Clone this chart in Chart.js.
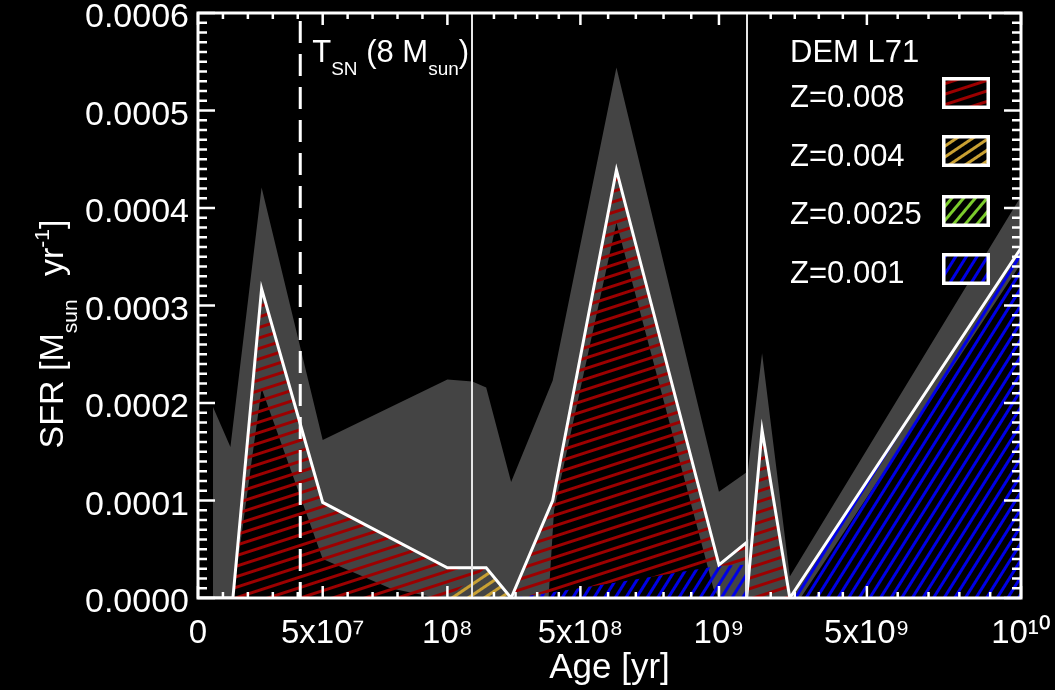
<!DOCTYPE html>
<html><head><meta charset="utf-8">
<style>html,body{margin:0;padding:0;background:#000;overflow:hidden}canvas{display:block}</style>
<script src="https://cdn.jsdelivr.net/npm/chart.js@4.4.1/dist/chart.umd.min.js"></script>
</head><body><canvas id="c" width="1055" height="690"></canvas>
<script>
// ---------------- data ----------------
const ages      = [0, 1.4e7, 2.55e7, 5e7, 1e8, 1.1e8, 1.6e8, 2.5e8, 4e8, 6.3e8, 1e9, 1.1e9, 1.1e9, 1.6e9, 2.5e9, 1e10];
const sfrZ008   = [0, 0, 0.000317, 0.000098, 0.000031, 0.000011, 0, 0, 0.000094, 0.000423, 0.000001, 0.000023, 0, 0.000172, 0, 0];
const sfrZ004   = [0, 0, 0, 0, 0, 0.00002, 0.000031, 0, 0, 0, 0, 0, 0, 0, 0, 0];
const sfrZ0025  = [0, 0, 0, 0, 0, 0, 0, 0, 0, 0, 0, 0, 0, 0, 0, 0];
const sfrZ001   = [0, 0, 0, 0, 0, 0, 0, 0, 0.000006, 0.000016, 0.000033, 0.000034, 0, 0, 0, 0.000359];

const upperAges = [6e6, 6e6, 1.3e7, 2.55e7, 5e7, 1e8, 1.1e8, 1.6e8, 2.5e8, 4e8, 6.3e8, 1e9, 1.1e9, 1.1e9, 1.6e9, 2.5e9, 1e10];
const sfrUpper  = [0, 0.000196, 0.000155, 0.000421, 0.000162, 0.000224, 0.000222, 0.000216, 0.000119, 0.000223, 0.000544, 0.000109, 0.000129, 0.00012, 0.000251, 0.000022, 0.000412];
const lowerAges = [0, 1.4e7, 2.55e7, 5e7, 7.7e7, 9.6e7, 3.85e8, 4.05e8, 6.3e8, 9.8e8, 1e9, 1.1e9, 1.6e9, 2.5e9, 2.85e9, 1e10];
const sfrLower  = [0, 0, 0.000215, 0.00004, 0.00001, 0, 0, 0.00009, 0.000385, 0.00001, 0, 0, 0, 0, 0, 0.000343];

const xTickAges   = [0, 5e7, 1e8, 5e8, 1e9, 5e9, 1e10];
const xTickLabels = ['0', '5x10\u2077', '10\u2078', '5x10\u2078', '10\u2079', '5x10\u2079', '10\u00B9\u2070'];
const yTickValues = [0, 0.0001, 0.0002, 0.0003, 0.0004, 0.0005, 0.0006];
const tSN = 4.1e7;
const legendTitle = 'DEM L71';
const legendLabels = ['Z=0.008', 'Z=0.004', 'Z=0.0025', 'Z=0.001'];

// ---------------- helpers ----------------
const panelEdges = [0, 1.1e8, 1.1e9, 1e10];
function ageToU(a) {
  if (a <= panelEdges[1]) return a / panelEdges[1];
  if (a <= panelEdges[2]) return 1 + (a - panelEdges[1]) / (panelEdges[2] - panelEdges[1]);
  return 2 + (a - panelEdges[2]) / (panelEdges[3] - panelEdges[2]);
}
const pts = (xs, ys) => xs.map((a, i) => ({x: ageToU(a), y: ys[i]}));
const sum = (...arrs) => arrs[0].map((_, i) => arrs.reduce((s, a) => s + a[i], 0));
const topBlue   = sfrZ001;
const topGreen  = sum(sfrZ001, sfrZ0025);
const topYellow = sum(sfrZ001, sfrZ0025, sfrZ004);
const topRed    = sum(sfrZ001, sfrZ0025, sfrZ004, sfrZ008);

const canvas = document.getElementById('c');
const ctx = canvas.getContext('2d');
function hatch(color, angle, spacing, width) {
  const t = document.createElement('canvas');
  t.width = 32; t.height = spacing;
  const g = t.getContext('2d');
  g.fillStyle = color; g.fillRect(0, 0, 32, width);
  const p = ctx.createPattern(t, 'repeat');
  p.setTransform(new DOMMatrix().rotateSelf(-angle));
  return p;
}
const patRed = hatch('#9c0000', 18, 10, 3);
const patYellow = hatch('#c9a032', 34, 9, 3);
const patGreen = hatch('#7ccc2c', 50, 9, 3);
const patBlue = hatch('#0000e6', 58, 9, 3);
const legendPats = [patRed, patYellow, patGreen, patBlue];

const FONT = "'Liberation Sans', Arial, Helvetica, sans-serif";

function drawRich(c, parts, x, y, align) {
  let w = 0;
  parts.forEach(p => { c.font = p.size + 'px ' + FONT; p.w = c.measureText(p.t).width + (p.gap || 0); w += p.w; });
  let cx = align === 'center' ? x - w / 2 : x;
  c.textAlign = 'left'; c.textBaseline = 'alphabetic';
  parts.forEach(p => { c.font = p.size + 'px ' + FONT; c.fillText(p.t, cx, y + (p.dy || 0)); cx += p.w; });
}

const deco = {
  id: 'deco',
  afterDatasetsDraw(chart) {
    const {ctx: c, chartArea: a, scales: {x, y}} = chart;
    c.save();
    const line = (x1, y1, x2, y2) => { c.beginPath(); c.moveTo(x1, y1); c.lineTo(x2, y2); c.stroke(); };
    // panel dividers
    c.strokeStyle = '#e6e6e6'; c.lineWidth = 2;
    [1, 2].forEach(u => { const px = Math.round(x.getPixelForValue(u)); line(px, a.top, px, a.bottom); });
    // T_SN dashed line
    c.strokeStyle = '#fff'; c.lineWidth = 3; c.setLineDash([22, 11]); c.lineDashOffset = -8;
    const sx = x.getPixelForValue(ageToU(tSN));
    line(sx, a.top, sx, a.bottom);
    c.setLineDash([]);
    // frame
    c.lineWidth = 3;
    c.strokeRect(a.left, a.top, a.right - a.left, a.bottom - a.top);
    // y ticks (left and right, inward)
    c.lineWidth = 2.5;
    for (let i = 0; i <= 60; i++) {
      const py = y.getPixelForValue(i * 1e-5);
      const len = i % 10 === 0 ? 17 : 9;
      line(a.left, py, a.left + len, py);
      line(a.right, py, a.right - len, py);
    }
    // x ticks (bottom and top, inward)
    const majors = xTickAges.map(ageToU);
    const minors = [1e7, 2e7, 3e7, 4e7, 6e7, 7e7, 8e7, 9e7, 6e8, 7e8, 8e8, 9e8, 6e9, 7e9, 8e9, 9e9].map(ageToU);
    [[1, 5e8], [2, 5e9]].forEach(([u0, m]) => {
      const u1 = ageToU(m);
      for (let k = 1; k < 5; k++) minors.push(u0 + (u1 - u0) * k / 5);
    });
    const tick = (u, len) => {
      const px = x.getPixelForValue(u);
      line(px, a.bottom, px, a.bottom - len);
      line(px, a.top, px, a.top + len);
    };
    majors.forEach(u => tick(u, 12));
    minors.forEach(u => tick(u, 6));
    // annotation
    c.fillStyle = '#fff';
    drawRich(c, [{t: 'T', size: 31}, {t: 'SN', size: 19, dy: 13}, {t: ' (8 M', size: 31}, {t: 'sun', size: 19, dy: 13}, {t: ')', size: 31}], sx + 12, 62);
    // legend
    c.font = '31px ' + FONT; c.textAlign = 'left'; c.textBaseline = 'alphabetic';
    c.fillText(legendTitle, 790, 62);
    const baselines = [107, 166, 224, 283];
    const boxTops = [77, 135, 195, 253];
    legendLabels.forEach((lab, i) => {
      c.fillStyle = '#fff';
      c.fillText(lab, 790, baselines[i]);
      c.fillStyle = '#000';
      c.fillRect(942, boxTops[i], 48, 32);
      c.fillStyle = legendPats[i];
      c.fillRect(942, boxTops[i], 48, 32);
      c.strokeStyle = '#fff'; c.lineWidth = 3.5;
      c.strokeRect(943.75, boxTops[i] + 1.75, 44.5, 28.5);
    });
    // y axis title
    c.fillStyle = '#fff';
    c.translate(51, 334);
    c.rotate(-Math.PI / 2);
    drawRich(c, [{t: 'SFR [M', size: 34}, {t: 'sun', size: 21, dy: 14, gap: 14}, {t: ' yr', size: 34}, {t: '-1', size: 21, dy: -14}, {t: ']', size: 34}], 0, 12, 'center');
    c.restore();
  }
};

const lineDs = (label, data, extra) => Object.assign({
  label, data, borderColor: 'transparent', borderWidth: 0, pointRadius: 0, tension: 0
}, extra);

new Chart(canvas, {
  type: 'line',
  data: {
    datasets: [
      lineDs('upper', pts(upperAges, sfrUpper), {backgroundColor: '#444444', fill: 'origin', order: 10}),
      lineDs('lower', pts(lowerAges, sfrLower), {backgroundColor: '#000000', fill: 'origin', order: 9}),
      lineDs(legendLabels[3], pts(ages, topBlue), {backgroundColor: patBlue, fill: 'origin', order: 8}),
      lineDs(legendLabels[2], pts(ages, topGreen), {backgroundColor: patGreen, fill: 2, order: 7}),
      lineDs(legendLabels[1], pts(ages, topYellow), {backgroundColor: patYellow, fill: 3, order: 6}),
      lineDs(legendLabels[0], pts(ages, topRed), {backgroundColor: patRed, fill: 4, order: 5}),
      lineDs('Total', pts(ages, topRed), {borderColor: '#ffffff', borderWidth: 3, fill: false, order: 4})
    ]
  },
  options: {
    responsive: false,
    devicePixelRatio: 1,
    animation: false,
    layout: {padding: {top: 13, right: 34, left: 0, bottom: 0}},
    plugins: {legend: {display: false}, tooltip: {enabled: false}},
    scales: {
      x: {
        type: 'linear', min: 0, max: 3,
        grid: {display: false, drawTicks: false},
        border: {display: false},
        afterBuildTicks: s => { s.ticks = xTickAges.map(a => ({value: ageToU(a)})); },
        afterFit: s => { s.height = 92; s.paddingLeft = 0; s.paddingRight = 0; },
        ticks: {
          autoSkip: false, maxRotation: 0, color: '#fff', padding: 16,
          font: {family: FONT, size: 33},
          callback: (v, i) => xTickLabels[i]
        },
        title: {display: true, text: 'Age [yr]', color: '#fff', font: {family: FONT, size: 35}, padding: {top: 0, bottom: 1}}
      },
      y: {
        type: 'linear', min: 0, max: 0.0006,
        grid: {display: false, drawTicks: false},
        border: {display: false},
        afterBuildTicks: s => { s.ticks = yTickValues.map(v => ({value: v})); },
        afterFit: s => { s.width = 198; s.paddingTop = 0; s.paddingBottom = 0; },
        ticks: {
          color: '#fff', padding: 9, labelOffset: 5,
          font: {family: FONT, size: 34},
          callback: v => v.toFixed(4)
        }
      }
    }
  },
  plugins: [deco]
});
</script></body></html>
